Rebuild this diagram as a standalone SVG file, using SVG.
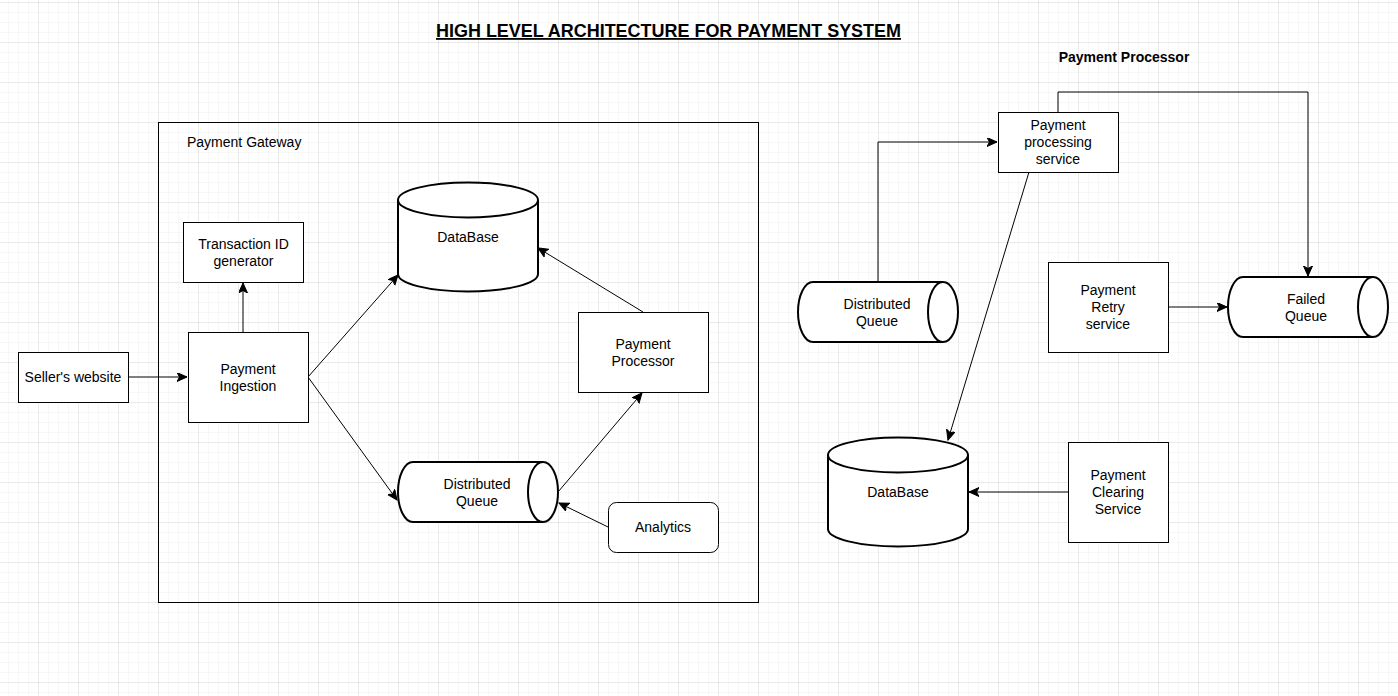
<svg xmlns="http://www.w3.org/2000/svg" width="1398" height="696" viewBox="0 0 1398 696">
<style>
  text { font-family: "Liberation Sans", Arial, sans-serif; font-size: 14px; fill: #000; text-anchor: middle; }
  .box { fill: #fff; stroke: #000; stroke-width: 1; }
  .cyl { fill: #fff; stroke: #000; stroke-width: 2; }
  .cylin { fill: none; stroke: #000; stroke-width: 2; }
  .edge { fill: none; stroke: #000; stroke-width: 1; marker-end: url(#arrow); }
  .title { font-size: 18px; font-weight: bold; text-decoration: underline; }
  .bold { font-weight: bold; }
</style>
<defs>
  <pattern id="minor" width="10" height="10" patternUnits="userSpaceOnUse" patternTransform="translate(-2,2)">
    <path d="M10,0 L0,0 L0,10" fill="none" stroke="#efefef" stroke-width="1"/>
  </pattern>
  <pattern id="major" width="40" height="40" patternUnits="userSpaceOnUse" patternTransform="translate(-2,2)">
    <path d="M40,0 L0,0 L0,40" fill="none" stroke="#dcdcdc" stroke-width="1"/>
  </pattern>
  <marker id="arrow" markerUnits="userSpaceOnUse" markerWidth="12" markerHeight="10" refX="10" refY="4.5" orient="auto">
    <path d="M0,0 L10,4.5 L0,9 L2.5,4.5 Z" fill="#000" stroke="#000" stroke-width="1"/>
  </marker>
</defs>
<rect width="1398" height="696" fill="#fff"/>
<rect width="1398" height="696" fill="url(#minor)"/>
<rect width="1398" height="696" fill="url(#major)"/>

<text class="title" x="668.5" y="37" textLength="465" lengthAdjust="spacingAndGlyphs">HIGH LEVEL ARCHITECTURE FOR PAYMENT SYSTEM</text>

<g id="payment-gateway">
  <rect x="158.5" y="122.5" width="600" height="480" fill="none" stroke="#000" stroke-width="1"/>
  <text x="187" y="147" style="text-anchor:start">Payment Gateway</text>
</g>

<g id="processor-title">
  <text class="bold" x="1124" y="62">Payment Processor</text>
</g>

<g id="connectors">
  <path class="edge" d="M128,377 L187,377"/>
  <path class="edge" d="M243,332 L243,283"/>
  <path class="edge" d="M308,377 L398,275"/>
  <path class="edge" d="M308,377 L397,500"/>
  <path class="edge" d="M643,312 L538,248"/>
  <path class="edge" d="M558,492 L642,393"/>
  <path class="edge" d="M608,527 L559,503"/>
  <path class="edge" d="M878,282 L878,142 L997,142"/>
  <path class="edge" d="M1058,112 L1058,92 L1308,92 L1308,276"/>
  <path class="edge" d="M1029,172 L948,440"/>
  <path class="edge" d="M1168,307 L1227,307"/>
  <path class="edge" d="M1068,492 L969,492"/>
</g>

<g id="sellers-website">
  <rect class="box" x="18.5" y="352.5" width="110" height="50"/>
  <text x="73" y="382">Seller's website</text>
</g>

<g id="transaction-id-generator">
  <rect class="box" x="183.5" y="222.5" width="120" height="60"/>
  <text x="243.5" y="249">Transaction ID</text>
  <text x="243.5" y="266">generator</text>
</g>

<g id="payment-ingestion">
  <rect class="box" x="188.5" y="332.5" width="120" height="90"/>
  <text x="248" y="374">Payment</text>
  <text x="248" y="391">Ingestion</text>
</g>

<g id="database-left">
  <path class="cyl" d="M398,200 A70,17.5 0 0 1 538,200 L538,274 A70,17.5 0 0 1 398,274 Z"/>
  <path class="cylin" d="M398,200 A70,17.5 0 0 0 538,200"/>
  <text x="468" y="242">DataBase</text>
</g>

<g id="payment-processor-box">
  <rect class="box" x="578.5" y="312.5" width="130" height="80"/>
  <text x="643" y="349">Payment</text>
  <text x="643" y="366">Processor</text>
</g>

<g id="distributed-queue-left">
  <path class="cyl" d="M413,462 L543,462 A15,30 0 0 1 543,522 L413,522 A15,30 0 0 1 413,462 Z"/>
  <path class="cylin" d="M543,462 A15,30 0 0 0 543,522"/>
  <text x="477" y="489">Distributed</text>
  <text x="477" y="506">Queue</text>
</g>

<g id="analytics">
  <rect class="box" x="608.5" y="502.5" width="110" height="50" rx="8" ry="8"/>
  <text x="663" y="532">Analytics</text>
</g>

<g id="payment-processing-service">
  <rect class="box" x="998.5" y="112.5" width="120" height="60"/>
  <text x="1058" y="130">Payment</text>
  <text x="1058" y="147">processing</text>
  <text x="1058" y="164">service</text>
</g>

<g id="distributed-queue-right">
  <path class="cyl" d="M813,282 L943,282 A15,30 0 0 1 943,342 L813,342 A15,30 0 0 1 813,282 Z"/>
  <path class="cylin" d="M943,282 A15,30 0 0 0 943,342"/>
  <text x="877" y="309">Distributed</text>
  <text x="877" y="326">Queue</text>
</g>

<g id="payment-retry-service">
  <rect class="box" x="1048.5" y="262.5" width="120" height="90"/>
  <text x="1108" y="295">Payment</text>
  <text x="1108" y="312">Retry</text>
  <text x="1108" y="329">service</text>
</g>

<g id="failed-queue">
  <path class="cyl" d="M1243,277 L1373,277 A15,30 0 0 1 1373,337 L1243,337 A15,30 0 0 1 1243,277 Z"/>
  <path class="cylin" d="M1373,277 A15,30 0 0 0 1373,337"/>
  <text x="1306" y="304">Failed</text>
  <text x="1306" y="321">Queue</text>
</g>

<g id="database-right">
  <path class="cyl" d="M828,455 A70,17.5 0 0 1 968,455 L968,529 A70,17.5 0 0 1 828,529 Z"/>
  <path class="cylin" d="M828,455 A70,17.5 0 0 0 968,455"/>
  <text x="898" y="497">DataBase</text>
</g>

<g id="payment-clearing-service">
  <rect class="box" x="1068.5" y="442.5" width="100" height="100"/>
  <text x="1118" y="480">Payment</text>
  <text x="1118" y="497">Clearing</text>
  <text x="1118" y="514">Service</text>
</g>
</svg>
